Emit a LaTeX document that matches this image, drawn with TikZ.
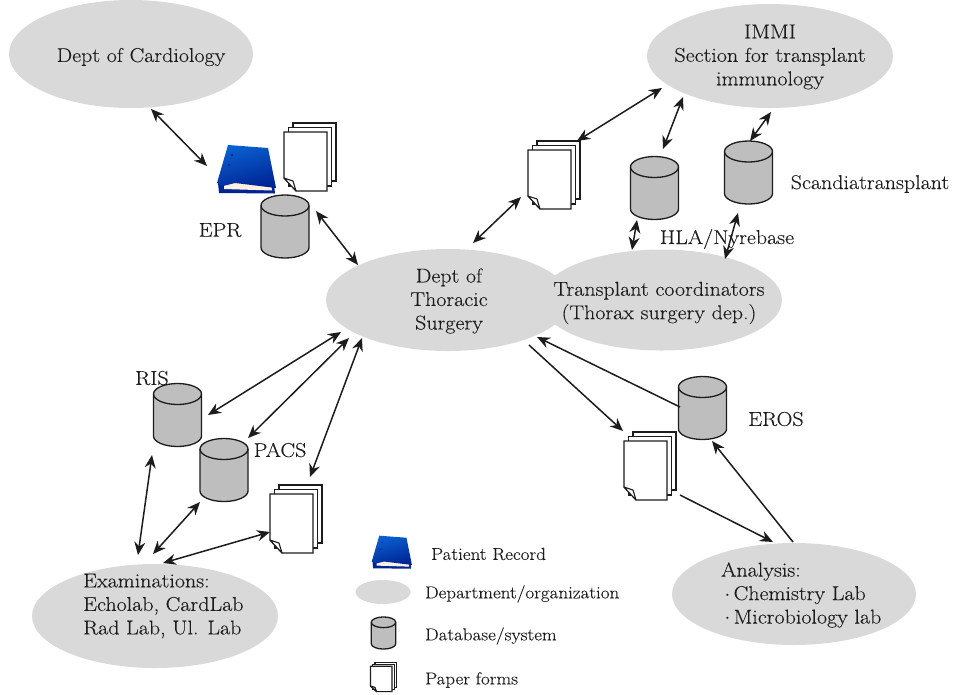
\documentclass[tikz,border=0pt]{standalone}
\usepackage{fontspec}
\setmainfont{Latin Modern Roman}[FakeStretch=1.1,FakeBold=0.15]
\usetikzlibrary{arrows.meta,shapes.geometric}
\definecolor{ell}{HTML}{D9D9D9}
\definecolor{dbg}{HTML}{BEBEBE}
\definecolor{ink}{HTML}{1C1C1C}
\definecolor{bluea}{rgb}{0.04,0.38,0.82}
\definecolor{blueb}{rgb}{0.0,0.14,0.58}
\tikzset{
  x=1pt,y=-1pt,
  dept/.style={ellipse,fill=ell,inner sep=0pt,draw=none},
  lbl/.style={font=\fontsize{20}{23.5}\selectfont,text=ink,inner sep=0pt,align=center},
  leg/.style={font=\fontsize{17.3}{20}\selectfont,text=ink,inner sep=0pt,anchor=west},
  both/.style={{Stealth[length=13pt,width=11pt]}-{Stealth[length=13pt,width=11pt]},line width=1.5pt,draw=ink},
  one/.style={-{Stealth[length=13pt,width=11pt]},line width=1.5pt,draw=ink},
  pics/db/.style={code={
    \node[inner sep=0pt,minimum width=49pt,minimum height=63pt] (-n) at (0,0) {};
    \draw[draw=ink,line width=1.3pt,fill=dbg]
      (-24,-21) -- (-24,21) arc[start angle=180,end angle=0,x radius=24,y radius=10.5]
      -- (24,-21) arc[start angle=0,end angle=-180,x radius=24,y radius=10.5] -- cycle;
    \draw[draw=ink,line width=1.3pt] (-24,-21) arc[start angle=180,end angle=0,x radius=24,y radius=10.5];
  }},
  pics/forms/.style={code={
    \node[inner sep=0pt,minimum width=52pt,minimum height=68pt] (-n) at (0,0) {};
    \draw[line width=1.1pt,fill=white,draw=ink] (-17,-34) rectangle (26,24);
    \draw[line width=1.1pt,fill=white,draw=ink] (-21.5,-29.5) rectangle (21.5,29);
    \draw[line width=1.1pt,fill=white,draw=ink] (-26,-25) -- (17,-25) -- (17,34) -- (-14,34) -- (-26,21) -- cycle;
    \draw[line width=1.1pt,fill=white,draw=ink,line join=round] (-26,21) -- (-17,24) -- (-14,34) -- cycle;
  }},
  pics/binder/.style={code={
    \node[inner sep=0pt,minimum width=60pt,minimum height=48pt] (-n) at (0,0) {};
    \fill[blueb] (-28,14) -- (-27,24) -- (29,24.5) -- (28,15) -- cycle;
    \fill[orange!12!white] (-22,14) -- (-22,20) -- (26,21.5) -- (25,14) -- cycle;
    \shade[left color=bluea,right color=blueb,shading angle=15]
      (-18,-24) -- (22,-21) -- (30,19) -- (-11,14) -- (-23,17) -- (-29,14) -- cycle;
    \fill[blueb] (-14,-14) circle[radius=1.3];
    \fill[blueb] (-17,-4) circle[radius=1.3];
  }},
}
\begin{document}
\begin{tikzpicture}
\useasboundingbox (0,0) rectangle (960,694);
% departments
\node[dept,minimum width=244pt,minimum height=108pt] (card) at (131,54) {};
\node[dept,minimum width=246pt,minimum height=104pt] (immi) at (770,56) {};
\node[dept,minimum width=244pt,minimum height=102pt] (thor) at (448,300) {};
\node[dept,minimum width=242pt,minimum height=101pt] (coord) at (661,300) {};
\node[dept,minimum width=244pt,minimum height=102pt] (anal) at (794,594) {};
\node[dept,minimum width=246pt,minimum height=104pt] (exam) at (155,616) {};
\node[dept,minimum width=55pt,minimum height=24pt] (legdept) at (383,592) {};
% labels
\node[lbl] (tcard) at (141,57) {Dept of Cardiology};
\node[lbl] (timmi) at (770,57) {IMMI\\Section for transplant\\immunology};
\node[lbl] (tthor) at (449,301) {Dept of\\Thoracic\\Surgery};
\node[lbl] (tcoord) at (659,303) {Transplant coordinators\\(Thorax surgery dep.)};
\node[lbl,align=left,anchor=west] (tanal) at (721,595) {Analysis:\\\,$\cdot$\,Chemistry Lab\\\,$\cdot$\,Microbiology lab};
\node[lbl,align=left,anchor=west] (texam) at (83,606) {Examinations:\\Echolab, CardLab\\Rad Lab, Ul. Lab};
% databases
\pic (dbepr) at (285,226.5) {db};
\pic (dbhla) at (654.5,188) {db};
\pic (dbsca) at (748.5,172.5) {db};
\pic (dbris) at (177.5,415) {db};
\pic (dbpacs) at (224,470) {db};
\pic (dberos) at (702.5,408) {db};
\pic[scale=.51] (dbleg) at (383.5,633) {db};
% paper forms
\pic (fepr) at (310,157) {forms};
\pic (ftop) at (554,175) {forms};
\pic (fexam) at (296,519) {forms};
\pic (feros) at (650,466) {forms};
\pic[xscale=.5,yscale=.43] (fleg) at (383.5,677) {forms};
% binders
\pic (bepr) at (246,169) {binder};
\pic[scale=.68] (bleg) at (391.5,552) {binder};
% other labels
\node[lbl] (lepr) at (220,230) {EPR};
\node[lbl] (lsca) at (870,184) {Scandiatransplant};
\node[lbl] (lhla) at (727,239) {HLA/Nyrebase};
\node[lbl] (lris) at (152,378) {RIS};
\node[lbl] (lpacs) at (280,450) {PACS};
\node[lbl] (leros) at (776,419) {EROS};
\node[leg] (l1) at (431,554) {Patient Record};
\node[leg] (l2) at (425,594) {Department/organization};
\node[leg] (l3) at (425,636) {Database/system};
\node[leg] (l4) at (425,680) {Paper forms};
% connector ends
\foreach \n/\x/\y in {a1/151/109,b1/207/166,a2/316/211,b2/358/265,a3/473/243,b3/521/197,
 a4/577/141,b4/662/88,a5/683/97,b5/663/149,a6/771/112,b6/750/141,a7/637/220,b7/632/250,
 a8/738/213,b8/725/259,a9/341/332,b9/208/415,a10/349/338,b10/248/438,a11/362/338,b11/310/477,
 a12/152/455,b12/138/555,a13/200/502,b13/153/554,a14/270/532,b14/163/563,
 a15/529/345,b15/623/431,a16/680/407,b16/537/337,a17/680/495,b17/773/542,a18/793/542,b18/712/441}
  \coordinate (\n) at (\x,\y);
% connectors
\foreach \i in {1,...,14} \draw[both] (a\i) -- (b\i);
\foreach \i in {15,...,18} \draw[one] (a\i) -- (b\i);
\end{tikzpicture}
\end{document}
